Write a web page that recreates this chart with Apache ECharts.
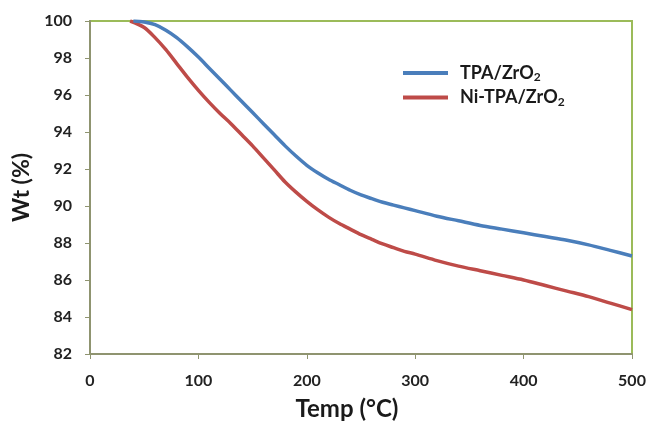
<!DOCTYPE html>
<html>
<head>
<meta charset="utf-8">
<script src="https://cdn.jsdelivr.net/npm/echarts@6/dist/echarts.min.js"></script>
<style>html,body{margin:0;padding:0;background:#fff;}#c{width:649px;height:428px;}</style>
</head>
<body>
<div id="c"></div>
<script>
const xTicks = [0, 100, 200, 300, 400, 500];
const yTicks = [82, 84, 86, 88, 90, 92, 94, 96, 98, 100];
const seriesNames = ['TPA/ZrO2', 'Ni-TPA/ZrO2'];

const tpaTemp = [40, 50, 60, 70, 80, 90, 100, 110, 120, 130, 140, 150, 160, 170, 180, 190, 200, 210, 220, 230, 240, 250, 260, 270, 280, 290, 300, 320, 340, 360, 380, 400, 420, 440, 460, 480, 500];
const tpaWt = [100.0, 99.95, 99.8, 99.5, 99.1, 98.6, 98.05, 97.45, 96.85, 96.25, 95.65, 95.05, 94.45, 93.85, 93.25, 92.7, 92.2, 91.8, 91.45, 91.15, 90.85, 90.6, 90.4, 90.2, 90.05, 89.9, 89.75, 89.45, 89.2, 88.95, 88.75, 88.55, 88.35, 88.15, 87.9, 87.6, 87.3];

const niTemp = [37, 50, 60, 70, 80, 90, 100, 110, 120, 130, 140, 150, 160, 170, 180, 190, 200, 210, 220, 230, 240, 250, 260, 270, 280, 290, 300, 320, 340, 360, 380, 400, 420, 440, 460, 480, 500];
const niWt = [100.0, 99.65, 99.1, 98.45, 97.7, 96.95, 96.25, 95.6, 95.0, 94.45, 93.85, 93.25, 92.6, 91.95, 91.3, 90.75, 90.25, 89.8, 89.4, 89.05, 88.75, 88.45, 88.2, 87.95, 87.75, 87.55, 87.4, 87.05, 86.75, 86.5, 86.25, 86.0, 85.7, 85.4, 85.1, 84.75, 84.4];

const zip = (a, b) => a.map((v, i) => [v, b[i]]);
const FONT = 'Lato';
const chart = echarts.init(document.getElementById('c'), null, {renderer: 'canvas'});
chart.setOption({
  animation: false,
  backgroundColor: '#ffffff',
  grid: {left: 90, top: 21, right: 17, bottom: 74, show: true, borderColor: '#9BBB59', borderWidth: 2, backgroundColor: 'transparent'},
  legend: {
    orient: 'vertical', left: 398, top: 59, itemWidth: 45, itemHeight: 4, itemGap: 5, icon: 'rect',
    data: seriesNames,
    formatter: n => n.replace(/2$/, '{sub|2}'),
    textStyle: {
      fontFamily: FONT, fontWeight: 'bold', fontSize: 18, color: '#1a1a1a', padding: [0, 0, 0, 7],
      rich: {sub: {fontFamily: FONT, fontWeight: 'bold', fontSize: 12, color: '#1a1a1a', verticalAlign: 'bottom', padding: [9, 0, 0, 0]}}
    }
  },
  xAxis: {
    type: 'value', min: 0, max: 500, interval: 100,
    name: 'Temp (°C)', nameLocation: 'middle', nameGap: 43,
    nameTextStyle: {fontFamily: FONT, fontWeight: 'bold', fontSize: 24, color: '#1a1a1a', padding: [0, 28, 0, 0]},
    axisLine: {show: true, onZero: false, lineStyle: {color: '#8F9470', width: 2}},
    axisTick: {show: true, inside: false, length: 5, lineStyle: {color: '#8F9470', width: 1}},
    axisLabel: {margin: 19, fontFamily: FONT, fontWeight: 'bold', fontSize: 16, color: '#222',
      formatter: v => xTicks.includes(v) ? String(v) : ''},
    splitLine: {show: false}
  },
  yAxis: {
    type: 'value', min: 82, max: 100, interval: 2,
    name: 'Wt (%)', nameLocation: 'middle', nameGap: 50, nameRotate: 90,
    nameTextStyle: {fontFamily: FONT, fontWeight: 'bold', fontSize: 23, color: '#1a1a1a'},
    axisLine: {show: true, onZero: false, lineStyle: {color: '#8F9470', width: 2}},
    axisTick: {show: true, inside: false, length: 5, lineStyle: {color: '#8F9470', width: 1}},
    axisLabel: {margin: 18, fontFamily: FONT, fontWeight: 'bold', fontSize: 16, color: '#222',
      formatter: v => yTicks.includes(v) ? String(v) : ''},
    splitLine: {show: false}
  },
  series: [
    {name: seriesNames[0], type: 'line', data: zip(tpaTemp, tpaWt), showSymbol: false, symbol: 'none', smooth: 0.3,
     itemStyle: {color: '#4A7EBB'}, lineStyle: {color: '#4A7EBB', width: 3.5}, z: 3},
    {name: seriesNames[1], type: 'line', data: zip(niTemp, niWt), showSymbol: false, symbol: 'none', smooth: 0.3,
     itemStyle: {color: '#BE4B48'}, lineStyle: {color: '#BE4B48', width: 3.5}, z: 2}
  ]
});
</script>
</body>
</html>
